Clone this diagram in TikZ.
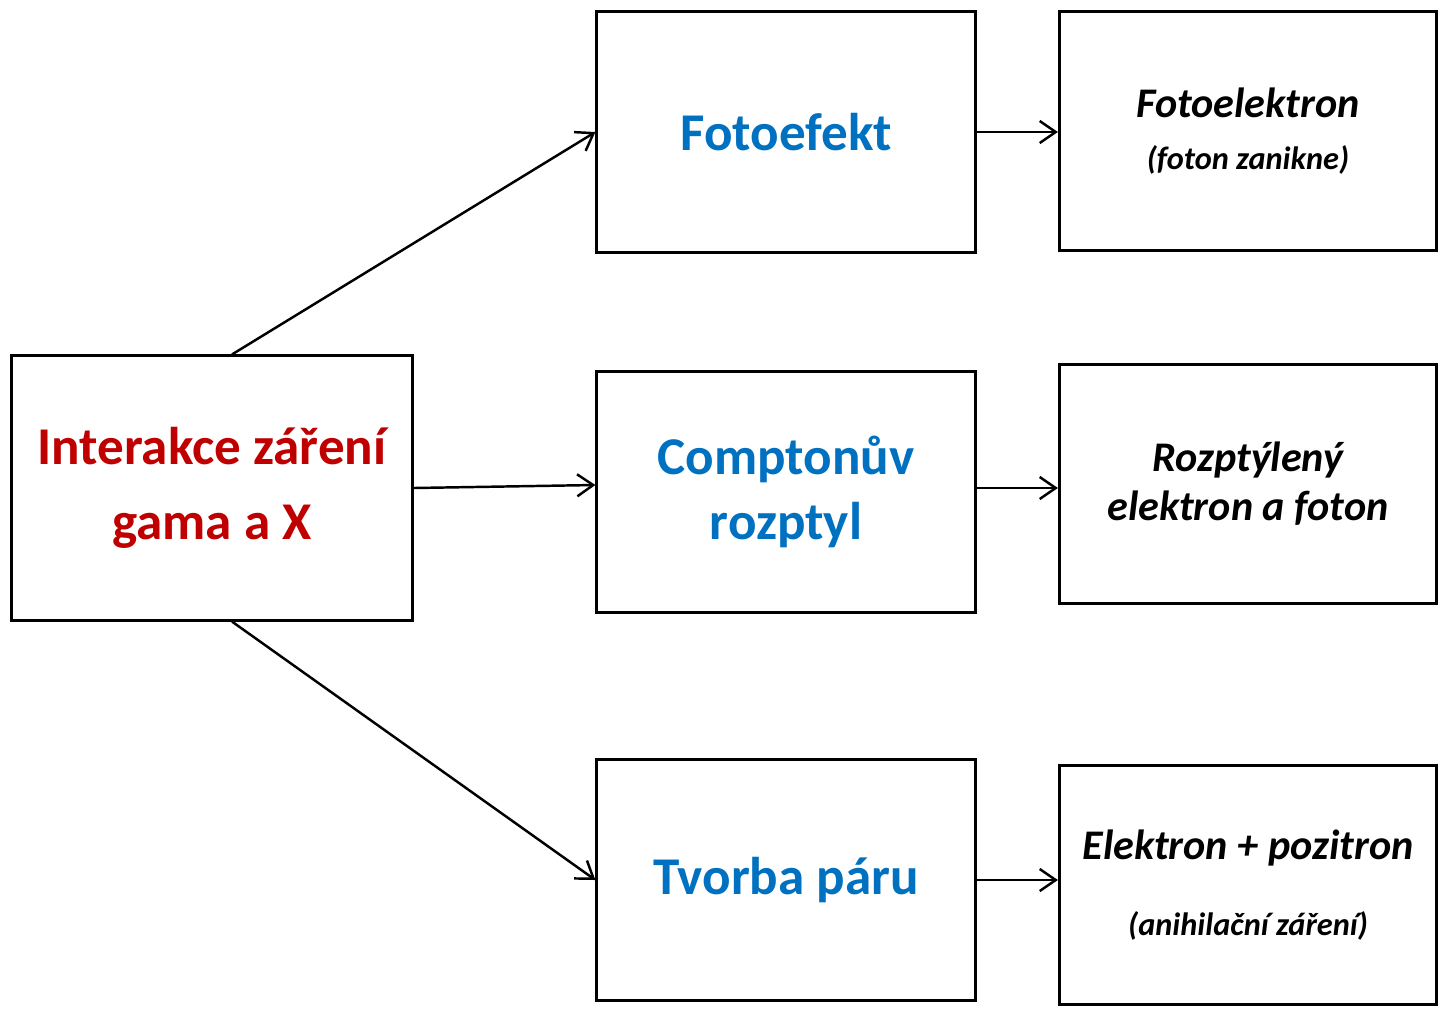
\documentclass[tikz,border=0pt]{standalone}
\usepackage{fontspec}
\setmainfont{Carlito}
\usepackage{tikz}
\usetikzlibrary{arrows.meta}
\usetikzlibrary{positioning}

\definecolor{zred}{HTML}{C00000}
\definecolor{zblue}{HTML}{0070C0}

\begin{document}
\begin{tikzpicture}[x=0.01cm,y=-0.01cm]
\tikzstyle{box}=[draw=black,line width=0.85pt,align=center,inner sep=0pt];
\tikzstyle{midbox}=[box,minimum width=3.78cm,minimum height=2.40cm,text=zblue,font=\bfseries\fontsize{15.1}{18.5}\selectfont];
\tikzstyle{endbox}=[box,minimum width=3.77cm,minimum height=2.38cm,font=\bfseries\itshape\fontsize{12}{14}\selectfont];
\tikzstyle{myarrow}=[line width=0.7pt,draw=black,-{Straight Barb[length=1.6mm,width=2.2mm]}];

\useasboundingbox (0,0) rectangle (1439,1008);

\def \colA{786}; % middle column
\def \colB{1248}; % right column

% source box
\node[box,minimum width=4cm,minimum height=2.64cm,text=zred,font=\bfseries\fontsize{15.1}{21.3}\selectfont] (inter) at (212,488) {\raisebox{-1pt}{Interakce záření}\\\raisebox{-1pt}{gama a X}};

% processes
\node[midbox] (foto) at (\colA,132) {Fotoefekt};
\node[midbox] (compton) at (\colA,492) {Comptonův\\rozptyl};
\node[midbox] (tvorba) at (\colA,880) {Tvorba páru};

% results
\node[endbox] (fotoel) at (\colB,131) {Fotoelektron\\[1pt]{\fontsize{9.2}{11}\selectfont (foton zanikne)}};
\node[endbox] (rozptyl) at (\colB,484) {Rozptýlený\\elektron a foton};
\node[endbox] (pair) at (\colB,885) {Elektron + pozitron\\[7.5pt]{\fontsize{9.2}{11}\selectfont (anihilační záření)}};

\draw [myarrow] ([xshift=0.2cm]inter.north) -- (foto.west);
\draw [myarrow] (inter.east) -- ([yshift=0.07cm]compton.west);
\draw [myarrow] ([xshift=0.2cm]inter.south) -- (tvorba.west);

\draw [myarrow] (foto.east) -- (foto.east -| fotoel.west);
\draw [myarrow] ([yshift=0.04cm]compton.east) -- ([yshift=0.04cm]compton.east -| rozptyl.west);
\draw [myarrow] (tvorba.east) -- (tvorba.east -| pair.west);

\end{tikzpicture}
\end{document}
